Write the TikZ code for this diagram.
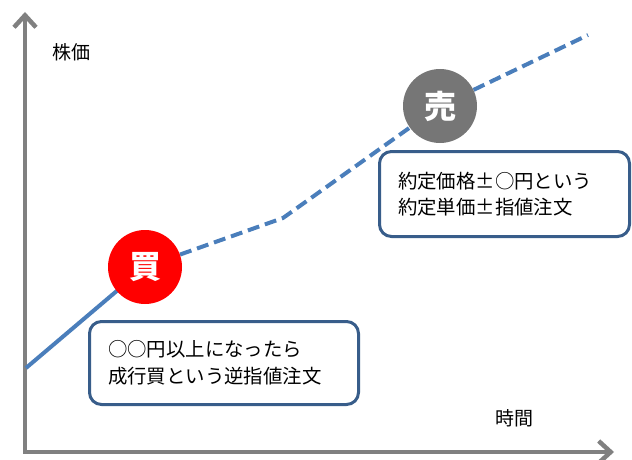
\documentclass[tikz,border=0pt]{standalone}
\usepackage{fontspec}
\setmainfont{Noto Sans CJK JP}
\usetikzlibrary{arrows.meta}
\definecolor{axisgray}{RGB}{128,128,128}
\definecolor{lineblue}{RGB}{74,126,187}
\definecolor{boxblue}{RGB}{56,93,138}
\definecolor{sellgray}{RGB}{118,118,118}
\definecolor{buyred}{RGB}{255,0,0}
\newcommand{\fwpm}{\makebox[1em][c]{±}}
\tikzset{
  axis/.style={draw=axisgray, line width=4.5pt, line join=miter,
    arrows={Straight Barb[length=12pt,width=22pt,line width=4.5pt]-Straight Barb[length=12pt,width=22pt,line width=4.5pt]}},
  price/.style={draw=lineblue, line width=4pt},
  pricedash/.style={price, dash pattern=on 12pt off 6pt},
  badge/.style={circle, minimum size=74pt, inner sep=0pt, text=white,
    font=\fontsize{32}{36}\selectfont\bfseries},
  memo/.style={draw=boxblue, line width=3pt, rounded corners=12pt, fill=white,
    anchor=north west, align=left, inner xsep=18.5pt, inner ysep=0pt,
    font=\fontsize{19.4}{26.5}\selectfont},
  lbl/.style={font=\fontsize{19}{22}\selectfont, inner sep=0pt}
}
\begin{document}
\begin{tikzpicture}[x=1pt,y=-1pt]
\useasboundingbox (0,0) rectangle (632,460);
% axes
\coordinate (ytop) at (25,12);
\coordinate (orig) at (25,452);
\coordinate (xend) at (614,452);
\draw[axis] (ytop) -- (orig) -- (xend);
\node[lbl] (ylab) at (71,52) {株価};
\node[lbl] (xlab) at (514,418) {時間};
% price line
\coordinate (start) at (26,368);
\coordinate (kink) at (283,218);
\coordinate (lineend) at (588,35);
\node[badge] (buy) at (145,267) {};
\node[badge] (sell) at (440,106) {};
\draw[price] (start) -- (buy.center);
\draw[pricedash] (buy) -- (kink) -- (sell);
\draw[pricedash] (sell) -- (lineend);
\node[badge, fill=buyred] (buyc) at (buy) {買};
\node[badge, fill=sellgray] (sellc) at (sell) {売};
% memo boxes
\node[memo, minimum width=269pt, minimum height=83pt, text width=232pt] (memo1) at (88,320)
  {○○円以上になったら\\成行買という逆指値注文};
\node[memo, minimum width=250pt, minimum height=85pt, text width=213pt] (memo2) at (378,150)
  {約定価格\fwpm○円という\\約定単価\fwpm 指値注文};
\end{tikzpicture}
\end{document}
